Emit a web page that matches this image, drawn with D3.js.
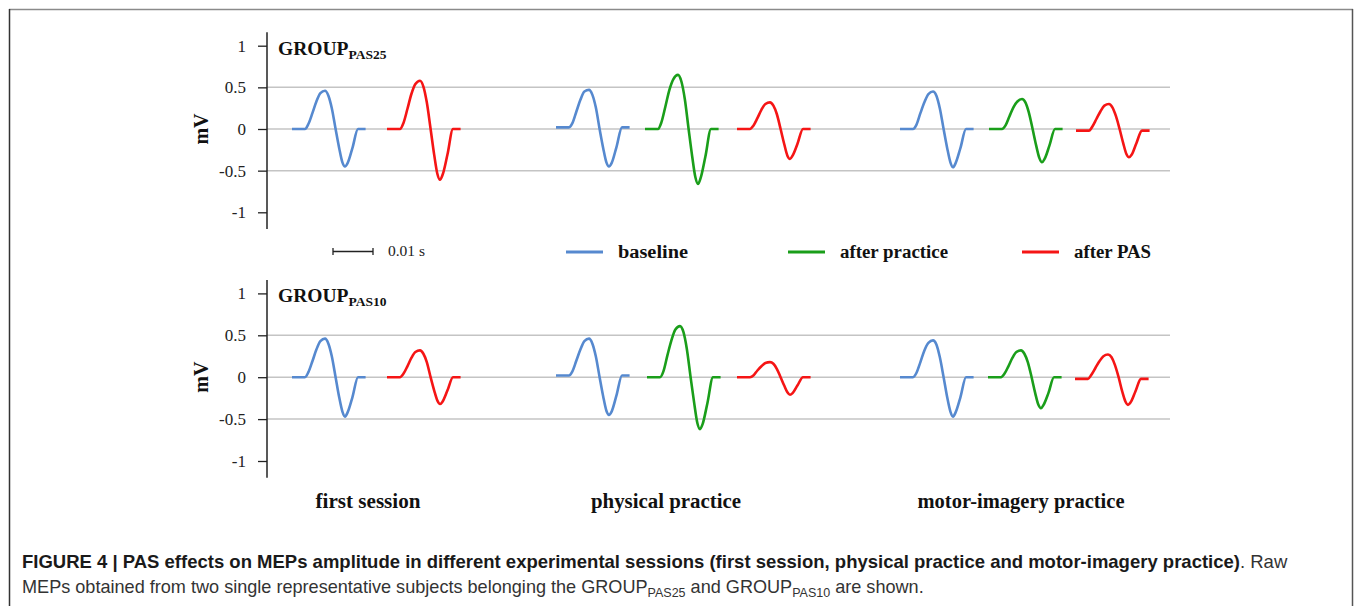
<!DOCTYPE html>
<html><head><meta charset="utf-8">
<script src="https://cdn.jsdelivr.net/npm/d3@7"></script>
<style>
html,body{margin:0;padding:0;background:#fff;}
svg{display:block;}
</style></head>
<body>
<svg id="c" width="1354" height="606"></svg>
<script>
// ---------- data ----------
const sessions = ["first session", "physical practice", "motor-imagery practice"];
const conditions = ["baseline", "after practice", "after PAS"];
const groups = ["PAS25", "PAS10"];
const yTicks = [-1, -0.5, 0, 0.5, 1];
const gridValues = [-0.5, 0, 0.5];
// sample times (ms) within one MEP sweep, relative to its onset
const sweepTimes = [0, 3.25, 4.1, 5.1, 6.1, 7.1, 8.25, 9.1, 9.95, 10.9, 11.8, 12.6, 13.25, 13.9, 15.1, 16.5, 18.4];
// traces of GROUP PAS25: onset (ms on the shared time axis) and amplitudes (mV)
const pas25Onsets = [6.25, 30, 72.25, 94.5, 117.5, 158.25, 180.5, 202.25];
const pas25Conditions = ["baseline", "after PAS", "baseline", "after practice", "after PAS", "baseline", "after practice", "after PAS"];
const pas25Values = [
  [0,0,0.06,0.19,0.33,0.43,0.46,0.40,0.25,0,-0.23,-0.40,-0.45,-0.41,-0.23,0,0],
  [0,0,0.07,0.24,0.42,0.54,0.58,0.51,0.32,0,-0.31,-0.54,-0.61,-0.55,-0.31,0,0],
  [0.02,0.02,0.07,0.21,0.35,0.45,0.47,0.41,0.26,0,-0.23,-0.40,-0.45,-0.41,-0.22,0.02,0.02],
  [0,0,0.08,0.27,0.47,0.60,0.65,0.57,0.36,0,-0.33,-0.58,-0.66,-0.59,-0.33,0,0],
  [0,0,0.04,0.13,0.23,0.30,0.32,0.28,0.18,0,-0.18,-0.32,-0.36,-0.32,-0.18,0,0],
  [0,0,0.05,0.19,0.32,0.42,0.45,0.40,0.25,0,-0.23,-0.40,-0.46,-0.41,-0.23,0,0],
  [0,0,0.04,0.15,0.26,0.33,0.36,0.32,0.20,0,-0.20,-0.35,-0.40,-0.36,-0.20,0,0],
  [-0.02,-0.02,0.03,0.12,0.21,0.28,0.30,0.26,0.16,0,-0.17,-0.30,-0.34,-0.31,-0.17,-0.02,-0.02]
];
// traces of GROUP PAS10
const pas10Onsets = [6.25, 30, 72.25, 95, 117.5, 158.25, 180.25, 202];
const pas10Conditions = ["baseline", "after PAS", "baseline", "after practice", "after PAS", "baseline", "after practice", "after PAS"];
const pas10Values = [
  [0,0,0.06,0.19,0.33,0.43,0.46,0.40,0.25,0,-0.24,-0.41,-0.47,-0.42,-0.24,0,0],
  [0,0,0.04,0.13,0.23,0.30,0.32,0.28,0.18,0,-0.16,-0.28,-0.32,-0.29,-0.16,0,0],
  [0.02,0.02,0.07,0.20,0.33,0.43,0.46,0.40,0.25,0,-0.23,-0.40,-0.45,-0.41,-0.22,0.02,0.02],
  [0,0,0.07,0.26,0.44,0.57,0.61,0.54,0.34,0,-0.31,-0.55,-0.62,-0.56,-0.31,0,0],
  [0,0,0.02,0.08,0.13,0.17,0.18,0.16,0.10,0,-0.10,-0.18,-0.21,-0.19,-0.10,0,0],
  [0,0,0.05,0.18,0.32,0.41,0.44,0.39,0.24,0,-0.24,-0.41,-0.47,-0.42,-0.24,0,0],
  [0,0,0.04,0.13,0.23,0.30,0.32,0.28,0.18,0,-0.19,-0.33,-0.37,-0.33,-0.19,0,0],
  [-0.02,-0.02,0.03,0.11,0.19,0.25,0.27,0.24,0.15,0,-0.17,-0.29,-0.33,-0.30,-0.17,-0.02,-0.02]
];
const sessionCenters = [25.25, 99.75, 188.5]; // ms on the shared time axis
const timeDomain = [0, 225.75];
const scaleBarMs = 10;

// ---------- style ----------
const colors = {"baseline": "#5689cf", "after practice": "#1a9e1a", "after PAS": "#f51515"};
const serif = "'Liberation Serif','Times New Roman',serif";
const sans = "'Liberation Sans',Arial,Helvetica,sans-serif";
const sessionWidths = [105, 150, 207];
const legendWidths = [70, 108, 77];

const svg = d3.select("#c");

// frame
svg.append("line").attr("x1", 9).attr("x2", 1353).attr("y1", 9.5).attr("y2", 9.5).attr("stroke", "#8a8a8a").attr("stroke-width", 1.5);
svg.append("line").attr("x1", 9.5).attr("x2", 9.5).attr("y1", 9).attr("y2", 606).attr("stroke", "#333").attr("stroke-width", 1.5);
svg.append("line").attr("x1", 1352.5).attr("x2", 1352.5).attr("y1", 9).attr("y2", 606).attr("stroke", "#555").attr("stroke-width", 1.5);

const x = d3.scaleLinear().domain(timeDomain).range([267, 1170]);

const panels = [
  {group: groups[0], onsets: pas25Onsets, conds: pas25Conditions, values: pas25Values, yr: [212.3, 45.7]},
  {group: groups[1], onsets: pas10Onsets, conds: pas10Conditions, values: pas10Values, yr: [461, 293.4]}
];

panels.forEach(p => {
  const y = d3.scaleLinear().domain([-1, 1]).range(p.yr);
  const g = svg.append("g");
  // grid
  g.selectAll("line.grid").data(gridValues).join("line").attr("class", "grid")
    .attr("x1", x(timeDomain[0])).attr("x2", x(timeDomain[1]))
    .attr("y1", d => y(d)).attr("y2", d => y(d))
    .attr("stroke", "#c4c4c4").attr("stroke-width", 1.5);
  // axis
  const ax = g.append("g").attr("transform", `translate(${x(0)},0)`)
    .call(d3.axisLeft(y).tickValues(yTicks).tickSize(9).tickPadding(12).tickFormat(d => String(d)));
  ax.attr("font-family", serif).attr("font-size", 17);
  ax.select(".domain").remove();
  ax.selectAll(".tick line").attr("stroke", "#222").attr("stroke-width", 1.3);
  ax.selectAll(".tick text").attr("fill", "#222");
  g.append("line").attr("x1", x(0)).attr("x2", x(0)).attr("y1", y(1.16)).attr("y2", y(-1.2))
    .attr("stroke", "#222").attr("stroke-width", 1.5);
  // mV label
  g.append("text").attr("transform", `translate(208,${y(0)}) rotate(-90)`)
    .attr("text-anchor", "middle").attr("font-family", serif).attr("font-weight", "bold")
    .attr("font-size", 20).attr("fill", "#111").text("mV");
  // group title
  const t = g.append("text").attr("x", 278).attr("y", y(1) + 9).attr("font-family", serif)
    .attr("font-weight", "bold").attr("fill", "#111");
  t.append("tspan").attr("font-size", 19.5).text("GROUP");
  t.append("tspan").attr("font-size", 13.5).attr("dy", 4).text(p.group);
  // traces
  const line = d3.line().x(d => x(d[0])).y(d => y(d[1])).curve(d3.curveMonotoneX);
  p.values.forEach((vals, i) => {
    const pts = sweepTimes.map((tm, k) => [p.onsets[i] + tm, vals[k]]);
    g.append("path").datum(pts).attr("d", line).attr("fill", "none")
      .attr("stroke", colors[p.conds[i]]).attr("stroke-width", 2.6)
      .attr("stroke-linejoin", "round").attr("stroke-linecap", "butt");
  });
});

// scale bar + legend row
const ly = 251.5;
const sb0 = 16.5;
svg.append("line").attr("x1", x(sb0)).attr("x2", x(sb0 + scaleBarMs)).attr("y1", ly).attr("y2", ly).attr("stroke", "#222").attr("stroke-width", 1.3);
[sb0, sb0 + scaleBarMs].forEach(v => svg.append("line").attr("x1", x(v)).attr("x2", x(v)).attr("y1", ly - 3.5).attr("y2", ly + 3.5).attr("stroke", "#222").attr("stroke-width", 1.3));
svg.append("text").attr("x", 388).attr("y", 256).attr("font-family", serif).attr("font-size", 14)
  .attr("textLength", 37).attr("lengthAdjust", "spacingAndGlyphs").attr("fill", "#222").text("0.01 s");

const legendPos = [566, 788, 1022];
conditions.forEach((c, i) => {
  svg.append("line").attr("x1", legendPos[i]).attr("x2", legendPos[i] + 37).attr("y1", ly + 0.5).attr("y2", ly + 0.5)
    .attr("stroke", colors[c]).attr("stroke-width", 3);
  svg.append("text").attr("x", legendPos[i] + 52).attr("y", 257.5).attr("font-family", serif).attr("font-weight", "bold")
    .attr("font-size", 18.5).attr("textLength", legendWidths[i]).attr("lengthAdjust", "spacingAndGlyphs")
    .attr("fill", "#111").text(c);
});

// session labels
svg.selectAll("text.sess").data(sessions).join("text").attr("class", "sess")
  .attr("x", (d, i) => x(sessionCenters[i]) - sessionWidths[i] / 2).attr("y", 507.5)
  .attr("font-family", serif).attr("font-weight", "bold").attr("font-size", 20).attr("fill", "#111")
  .attr("textLength", (d, i) => sessionWidths[i]).attr("lengthAdjust", "spacingAndGlyphs")
  .text(d => d);

// caption
const c1 = svg.append("text").attr("x", 22).attr("y", 568).attr("font-family", sans).attr("font-size", 18.5);
c1.append("tspan").attr("font-weight", "bold").attr("fill", "#1a1a1a")
  .text("FIGURE 4 | PAS effects on MEPs amplitude in different experimental sessions (first session, physical practice and motor-imagery practice)");
c1.append("tspan").attr("fill", "#333").text(". Raw");
const c2 = svg.append("text").attr("x", 22).attr("y", 593).attr("font-family", sans).attr("font-size", 18.1).attr("fill", "#333");
c2.append("tspan").text("MEPs obtained from two single representative subjects belonging the GROUP");
c2.append("tspan").attr("font-size", 12.5).attr("dy", 3.5).text("PAS25");
c2.append("tspan").attr("dy", -3.5).text(" and GROUP");
c2.append("tspan").attr("font-size", 12.5).attr("dy", 3.5).text("PAS10");
c2.append("tspan").attr("dy", -3.5).text(" are shown.");
</script>
</body></html>
